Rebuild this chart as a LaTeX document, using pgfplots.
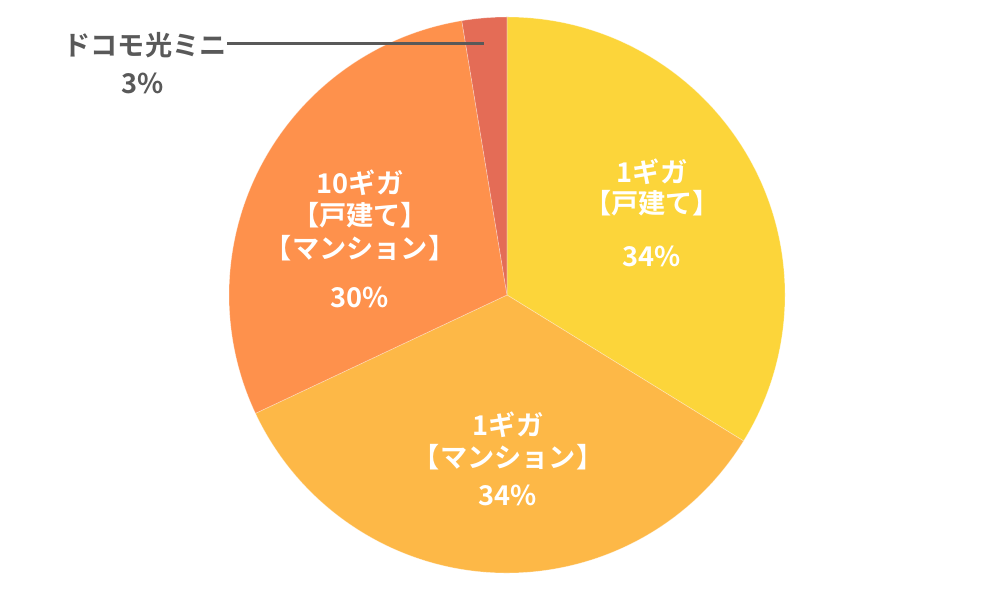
\documentclass[border=0pt]{standalone}
\usepackage{pgfplots}
\pgfplotsset{compat=1.18}
\usepackage{pgfplotstable}
\usepackage{fontspec}
\setmainfont{Noto Sans CJK JP}[BoldFont={Noto Sans CJK JP Bold}]

\definecolor{slice0}{HTML}{FCD53A}
\definecolor{slice1}{HTML}{FDB847}
\definecolor{slice2}{HTML}{FE914C}
\definecolor{slice3}{HTML}{E46C56}
\definecolor{leader}{HTML}{595959}

% shares as drawn (labels are rounded)
\pgfplotstableread{
share
33.8
34.2
29.4
2.6
}\piedata

\newcommand\lbl{\fontsize{13.6}{15}\selectfont\bfseries}

\begin{document}
\begin{tikzpicture}
\def\cum{0}
\foreach \i in {0,...,3}{
  \pgfplotstablegetelem{\i}{share}\of\piedata
  \pgfmathsetmacro\a{90-3.6*\cum}
  \pgfmathsetmacro\c{\cum+\pgfplotsretval}
  \pgfmathsetmacro\b{90-3.6*\c}
  \expandafter\xdef\csname angS\i\endcsname{\a}
  \expandafter\xdef\csname angE\i\endcsname{\b}
  \xdef\cum{\c}
}
\begin{axis}[
  hide axis,
  scale only axis,
  width=500pt, height=300pt,
  xmin=0, xmax=1000, ymin=0, ymax=600,
  clip=false
]
\path (axis cs:0,0) rectangle (axis cs:1000,600);
\pgfplotsinvokeforeach{0,...,3}{
  \fill[slice#1, draw=white, draw opacity=0.4, line width=0.3pt]
    (axis cs:507,305) -- ++(\csname angS#1\endcsname:139pt)
    arc[start angle=\csname angS#1\endcsname, end angle=\csname angE#1\endcsname, radius=139pt] -- cycle;
}
% labels
\node[text=white, font=\lbl] at (axis cs:652,428) {1ギガ};
\node[text=white, font=\lbl] at (axis cs:652,397) {【戸建て】};
\node[text=white, font=\lbl] at (axis cs:652,344) {34\%};

\node[text=white, font=\lbl] at (axis cs:508,175) {1ギガ};
\node[text=white, font=\lbl] at (axis cs:508,143) {【マンション】};
\node[text=white, font=\lbl] at (axis cs:508,105) {34\%};

\node[text=white, font=\lbl] at (axis cs:360,417) {10ギガ};
\node[text=white, font=\lbl] at (axis cs:360,385) {【戸建て】};
\node[text=white, font=\lbl] at (axis cs:360,352) {【マンション】};
\node[text=white, font=\lbl] at (axis cs:360,303) {30\%};

\draw[leader, line width=1.5pt] (axis cs:227,556) -- (axis cs:484,556);
\node[text=leader, font=\lbl] at (axis cs:145,555) {ドコモ光ミニ};
\node[text=leader, font=\lbl] at (axis cs:143,517) {3\%};
\end{axis}
\end{tikzpicture}
\end{document}
